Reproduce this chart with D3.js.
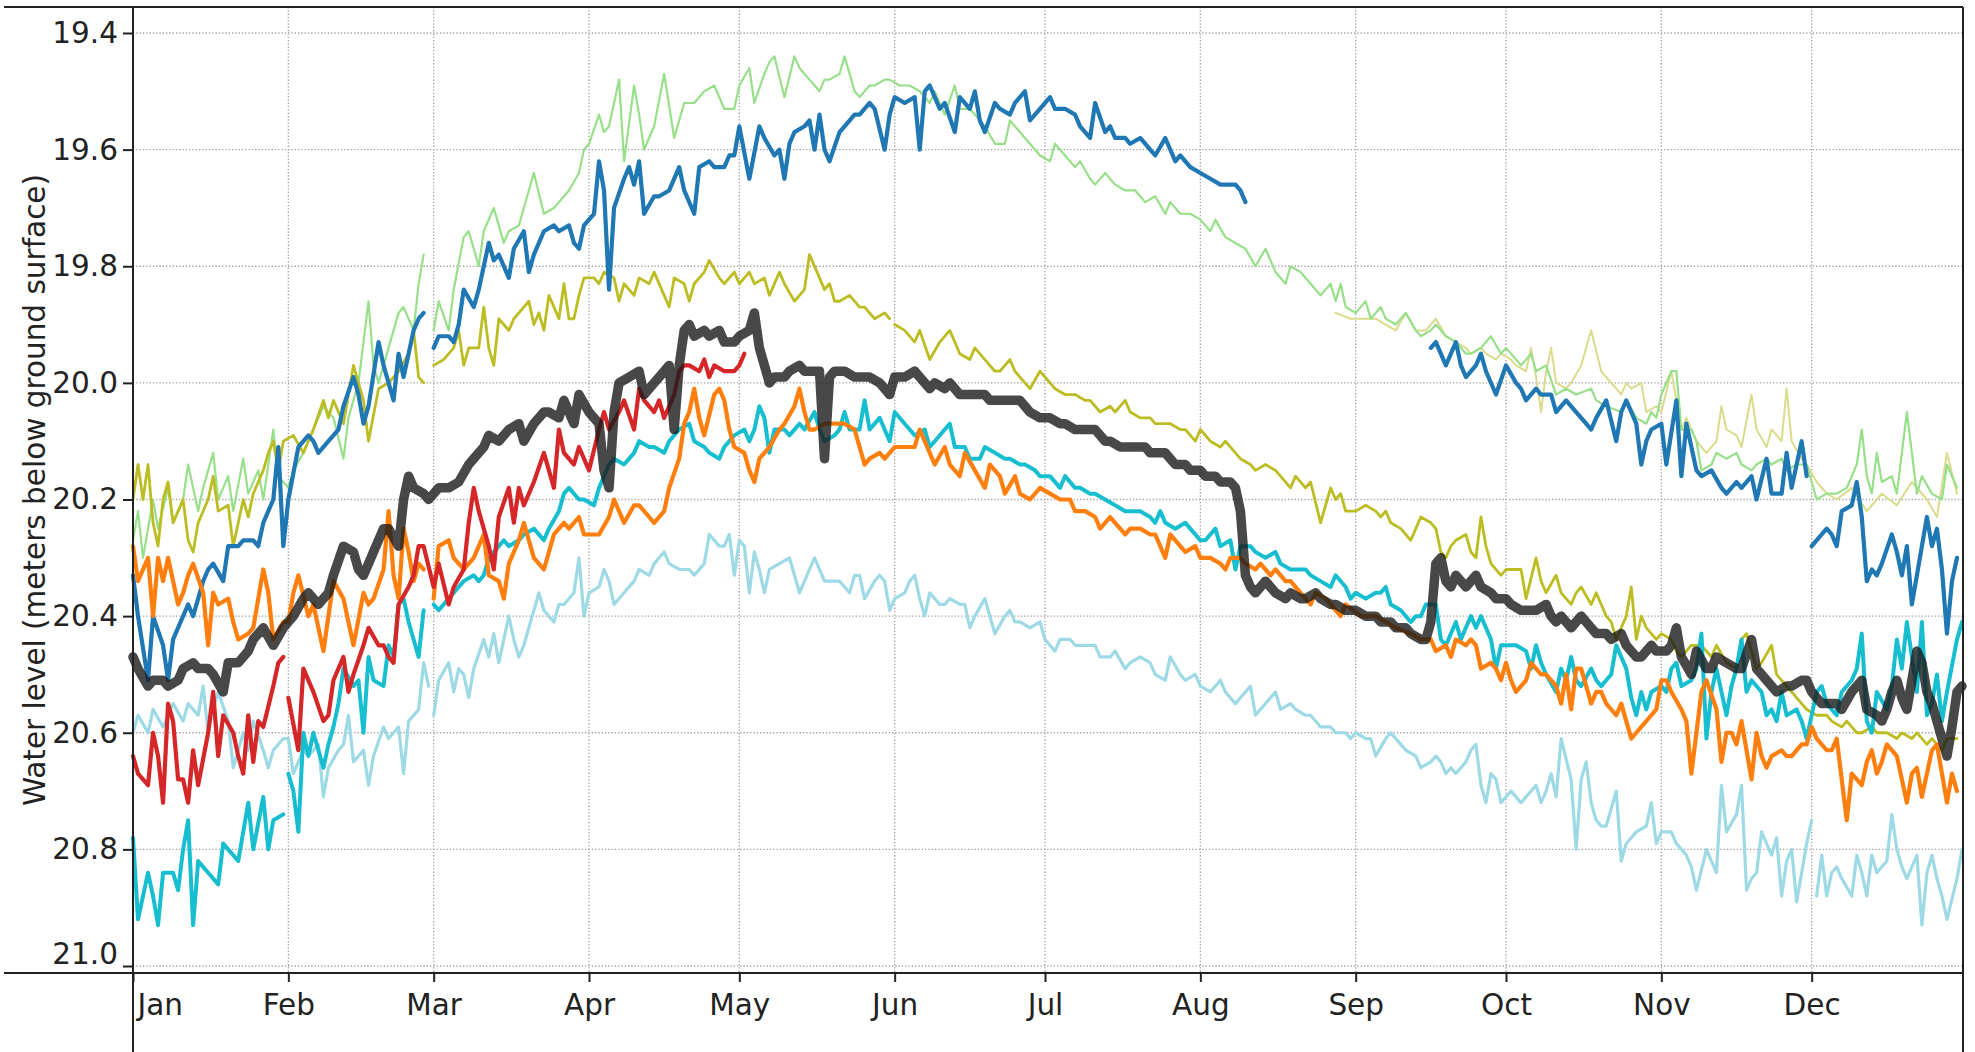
<!DOCTYPE html>
<html><head><meta charset="utf-8">
<script src="https://cdn.jsdelivr.net/npm/d3@7"></script>
<style>
body{margin:0;background:#fff;}
svg{display:block;font-family:"DejaVu Sans",Verdana,sans-serif;}
</style></head><body>
<svg id="chart" width="1975" height="1052"></svg>
<script>
// ---------- DATA (day index from Jan 1 of a leap year, water level in m below surface) ----------
const monthLabels = ["Jan","Feb","Mar","Apr","May","Jun","Jul","Aug","Sep","Oct","Nov","Dec"];
const yTicks = [19.4,19.6,19.8,20.0,20.2,20.4,20.6,20.8,21.0];
const yAxisTitle = "Water level (meters below ground surface)";

const lightBlueSeries = [[0,20.6],[1,20.57],[3,20.6],[4,20.56],[6,20.59],[7,20.57],[8,20.55],[10,20.58],[11,20.55],[13,20.57],[14,20.52],[15,20.6],[16,20.56],[17,20.53],[19,20.58],[20,20.66],[22,20.6],[23,20.63],[24,20.58],[26,20.63],[27,20.66],[28,20.63],[30,20.61],[31,20.61],[32,20.67],[34,20.63],[35,20.64],[37,20.62],[38,20.71],[39,20.66],[41,20.63],[42,20.62],[43,20.57],[44,20.65],[46,20.63],[47,20.69],[48,20.64],[50,20.59],[51,20.61],[52,20.6],[53,20.59],[54,20.67],[55,20.58],[57,20.56],[58,20.48],[59,20.52],[59.5,null],
[60,20.57],[61,20.51],[63,20.48],[64,20.53],[65,20.49],[66,20.5],[67,20.54],[68,20.49],[70,20.44],[71,20.47],[72,20.43],[73,20.48],[75,20.4],[76,20.44],[77,20.47],[78,20.45],[79,20.42],[81,20.36],[82,20.39],[84,20.41],[85,20.38],[86,20.38],[88,20.36],[89,20.3],[90,20.4],[91,20.36],[93,20.35],[94,20.32],[95,20.34],[96,20.38],[98,20.36],[100,20.34],[101,20.32],[103,20.33],[104,20.31],[106,20.29],[107,20.31],[109,20.32],[111,20.32],[112,20.33],[114,20.31],[115,20.26],[117,20.28],[118,20.28],[119,20.26],[120,20.33],[121,20.27],[122,20.28],[123,20.36],[124,20.29],[125,20.32],[126,20.36],[127,20.32],[129,20.31],[131,20.3],[132,20.33],[133,20.36],[134,20.34],[136,20.3],[137,20.32],[138,20.34],[140,20.34],[141,20.34],[143,20.36],[144,20.33],[145,20.33],[146,20.37],[148,20.34],[149,20.33],[150,20.34],[151,20.39],[152,20.37],[154,20.36],[155,20.34],[156,20.33],[157,20.37],[158,20.4],[159,20.36],[161,20.38],[162,20.38],[163,20.37],[165,20.38],[166,20.38],[167,20.42],[168,20.4],[170,20.37],[171,20.4],[172,20.43],[174,20.4],[175,20.39],[176,20.41],[177,20.41],[179,20.42],[181,20.41],[182,20.44],[184,20.46],[185,20.44],[187,20.44],[188,20.45],[190,20.45],[192,20.45],[193,20.47],[195,20.47],[196,20.46],[198,20.49],[199,20.48],[201,20.47],[203,20.48],[204,20.5],[206,20.51],[207,20.47],[209,20.5],[210,20.51],[212,20.5],[213,20.52],[215,20.53],[217,20.51],[218,20.53],[220,20.55],[221,20.54],[223,20.52],[224,20.57],[226,20.55],[228,20.53],[229,20.56],[231,20.55],[232,20.56],[234,20.57],[235,20.57],[237,20.59],[239,20.59],[240,20.6],[242,20.6],[243,20.61],[244,20.6],[246,20.61],[247,20.61],[248,20.64],[250,20.61],[251,20.6],[253,20.62],[254,20.63],[256,20.64],[257,20.66],[259,20.65],[260,20.64],[261,20.65],[262,20.67],[263,20.66],[264,20.67],[266,20.65],[267,20.63],[268,20.62],[269,20.69],[270,20.72],[271,20.67],[272,20.68],[273,20.72],[275,20.7],[276,20.71],[277,20.72],[278,20.71],[280,20.69],[281,20.72],[282,20.7],[283,20.67],[284,20.71],[285,20.61],[287,20.68],[288,20.8],[289,20.68],[290,20.65],[291,20.72],[292,20.75],[293,20.76],[294,20.76],[296,20.7],[297,20.82],[298,20.79],[299,20.78],[300,20.77],[302,20.76],[303,20.72],[304,20.79],[305,20.77],[307,20.77],[308,20.79],[309,20.8],[310,20.81],[311,20.83],[312,20.87],[314,20.8],[315,20.82],[316,20.84],[317,20.69],[318,20.77],[320,20.74],[321,20.69],[322,20.87],[323,20.85],[324,20.84],[325,20.77],[327,20.81],[328,20.78],[329,20.88],[330,20.82],[331,20.8],[332,20.89],[334,20.79],[335,20.75],[335.3,null],
[336,20.88],[337,20.81],[338,20.88],[339,20.84],[340,20.83],[341,20.85],[343,20.88],[344,20.81],[345,20.84],[346,20.88],[347,20.81],[348,20.84],[350,20.82],[351,20.74],[352,20.8],[353,20.83],[354,20.85],[356,20.81],[357,20.93],[358,20.84],[359,20.81],[360,20.85],[361,20.88],[362,20.92],[364,20.85],[365,20.8]];

const paleSeries = [[240,19.88],[243,19.89],[245,19.89],[248,19.89],[250,19.9],[252,19.91],[254,19.88],[256,19.91],[258,19.91],[260,19.89],[262,19.92],[264,19.93],[266,19.94],[267,19.95],[269,19.94],[270,19.95],[272,19.96],[273,19.95],[275,19.96],[276,19.97],[278,19.98],[279,19.94],[280,19.99],[281,20.05],[282,19.98],[283,19.94],[284,20.0],[286,20.01],[287,20.0],[289,19.97],[291,19.91],[293,19.98],[294,19.99],[296,20.01],[297,20.02],[298,20.0],[299,20.01],[301,20.0],[302,20.05],[304,20.04],[305,20.05],[307,19.98],[308,20.03],[309,20.08],[310,20.06],[312,20.1],[313,20.11],[314,20.12],[316,20.1],[317,20.04],[318,20.08],[320,20.09],[321,20.11],[323,20.02],[324,20.08],[326,20.11],[327,20.08],[329,20.1],[330,20.01],[331,20.1],[333,20.13],[334,20.14],[336,20.17],[338,20.19],[340,20.2],[343,20.18],[346,20.22],[349,20.19],[352,20.21],[355,20.17],[358,20.2],[360,20.23],[362,20.12],[364,20.19]];

const lightGreenSeries = [[0,20.27],[1,20.22],[2,20.3],[4,20.2],[5,20.25],[7,20.18],[8,20.24],[10,20.2],[11,20.14],[13,20.22],[14,20.18],[16,20.12],[17,20.2],[19,20.16],[20,20.22],[22,20.13],[23,20.19],[25,20.15],[26,20.2],[28,20.08],[29,20.16],[31,20.18],[32,20.15],[34,20.12],[36,20.08],[38,20.04],[40,20.06],[42,20.13],[43,20.06],[45,20.0],[47,19.86],[48,19.97],[49,20.0],[51,19.94],[53,19.88],[54,19.87],[56,19.91],[57,19.83],[58,19.78],[59,null],
[60,19.91],[61,19.86],[63,19.91],[64,19.84],[66,19.75],[67,19.74],[69,19.8],[70,19.74],[72,19.7],[74,19.76],[75,19.74],[77,19.73],[78,19.7],[80,19.64],[82,19.71],[84,19.7],[85,19.69],[87,19.67],[89,19.64],[90,19.6],[91,19.59],[93,19.54],[94,19.57],[95,19.56],[97,19.48],[98,19.62],[100,19.49],[101,19.54],[102,19.6],[104,19.56],[106,19.47],[108,19.58],[110,19.52],[112,19.52],[114,19.5],[116,19.49],[118,19.53],[120,19.53],[121,19.49],
[123,19.46],[124,19.52],[126,19.47],[127,19.45],[128,19.44],[130,19.51],[132,19.44],[133,19.46],[135,19.48],[137,19.5],[138,19.48],[139,19.48],[141,19.47],[142,19.44],[144,19.5],[145,19.51],[147,19.49],[148,19.49],[150,19.48],[151,19.48],[153,19.49],[155,19.49],[157,19.5],[159,19.52],[160,19.5],[162,19.54],[164,19.49],[165,19.53],[167,19.53],[169,19.55],[170,19.56],[172,19.59],[174,19.59],[175,19.55],[177,19.57],[178,19.58],[180,19.6],[181,19.61],[183,19.62],[184,19.59],[186,19.61],[188,19.63],[189,19.62],[191,19.65],[192,19.66],[194,19.64],[196,19.66],[198,19.67],[200,19.67],[202,19.69],[204,19.68],[206,19.71],[207,19.69],[209,19.71],[211,19.71],[213,19.72],[215,19.74],[216,19.72],[218,19.75],[220,19.76],[222,19.77],[224,19.8],[226,19.77],[228,19.81],[230,19.83],[231,19.8],[233,19.81],[235,19.83],[237,19.85],[239,19.83],[240,19.86],[241,19.83],[242,19.87],
[244,19.88],[246,19.86],[247,19.89],[249,19.87],[250,19.89],[252,19.9],[254,19.88],[256,19.91],[257,19.92],[259,19.91],[260,19.9],[262,19.92],[264,19.93],[266,19.95],[267,19.95],[269,19.94],[271,19.92],[273,19.95],[274,19.94],[276,19.96],[277,19.97],[279,19.95],[280,19.98],[282,19.97],[284,20.02],[286,20.01],[288,20.02],[291,20.01],[292,20.03],[294,20.04],[297,20.05],[298,20.03],[300,20.06],[302,20.07],[303,20.05],[304,20.06],[305,20.02],[307,19.98],[308,19.98],[309,20.08],[311,20.08],[312,20.1],[313,20.15],[315,20.14],[316,20.12],[318,20.13],[320,20.12],[321,20.14],[323,20.15],[324,20.14],[326,20.13],[327,20.14],[329,20.13],[330,20.15],[332,20.14],[334,20.14],[336,20.2],[338,20.19],[340,20.19],[342,20.18],[344,20.14],[345,20.08],[346,20.16],[347,20.19],[348,20.12],[349,20.17],[351,20.16],[352,20.19],[354,20.05],[356,20.19],[357,20.16],[359,20.19],[361,20.2],[362,20.14],[364,20.18]];

const oliveSeries = [[0,20.2],[1,20.14],[2,20.2],[3,20.14],[4,20.24],[5,20.28],[6,20.2],[7,20.17],[8,20.24],[10,20.2],[11,20.27],[12,20.29],[13,20.24],[15,20.2],[16,20.16],[17,20.22],[19,20.21],[20,20.28],[22,20.2],[23,20.23],[24,20.19],[26,20.15],[27,20.12],[28,20.1],[29,20.15],[30,20.1],[32,20.09],[34,20.12],[36,20.08],[38,20.03],[39,20.06],[40,20.03],[42,20.07],[44,19.97],[46,20.03],[47,20.1],[49,20.01],[51,20.0],[53,19.98],[55,19.95],[56,19.91],[57,19.99],[58,20.0],[59,null],
[60,19.97],[62,19.96],[64,19.94],[65,19.91],[66,19.97],[67,19.94],[69,19.94],[70,19.87],[71,19.94],[72,19.97],[73,19.89],[75,19.91],[76,19.89],[78,19.87],[79,19.86],[80,19.9],[81,19.88],[82,19.91],[83,19.85],[85,19.89],[86,19.83],[87,19.89],[88,19.89],[89,19.85],[90,19.82],[92,19.82],[93,19.83],[94,19.81],[96,19.82],[97,19.86],[98,19.83],[100,19.85],[101,19.82],[103,19.83],[104,19.81],[106,19.85],[107,19.87],[108,19.82],[110,19.83],[111,19.86],[112,19.83],[114,19.81],[115,19.79],[117,19.82],[118,19.83],[120,19.81],[121,19.83],
[123,19.81],[124,19.83],[126,19.82],[127,19.85],[129,19.81],[130,19.83],[132,19.86],[134,19.84],[135,19.78],[137,19.82],[138,19.84],[139,19.83],[140,19.86],[141,19.86],[143,19.85],[145,19.87],[146,19.87],[148,19.89],[150,19.88],[151,19.89],[151.5,null],
[152,19.9],[154,19.91],[156,19.93],[157,19.91],[159,19.96],[161,19.93],[163,19.91],[164,19.93],[165,19.95],[167,19.96],[168,19.94],[170,19.96],[172,19.98],[173,19.98],[175,19.96],[176,19.98],[177,19.99],[179,20.01],[181,19.98],[183,20.0],[184,20.01],[186,20.02],[188,20.02],[190,20.03],[191,20.03],[193,20.05],[195,20.04],[196,20.05],[198,20.03],[199,20.05],[201,20.06],[203,20.06],[204,20.07],[206,20.07],[207,20.07],[209,20.08],[210,20.08],[212,20.1],[213,20.08],[215,20.1],[217,20.11],[218,20.1],[220,20.12],[221,20.13],[223,20.14],[224,20.15],[226,20.14],[228,20.15],[229,20.16],[231,20.18],[232,20.16],[234,20.18],[235,20.17],[237,20.24],[239,20.18],[240,20.2],[241,20.19],[242,20.22],
[244,20.22],[246,20.21],[248,20.22],[249,20.23],[250,20.22],[251,20.24],[253,20.25],[255,20.27],[256,20.25],[257,20.23],[259,20.24],[260,20.25],[261,20.29],[262,20.3],[263,20.28],[264,20.27],[266,20.26],[267,20.29],[268,20.3],[269,20.23],[270,20.28],[271,20.31],[273,20.33],[274,20.32],[276,20.32],[277,20.32],[278,20.37],[280,20.3],[281,20.34],[282,20.36],[284,20.33],[285,20.36],[287,20.38],[288,20.36],[289,20.35],[291,20.38],[292,20.36],[294,20.4],[295,20.41],[296,20.44],[298,20.4],[299,20.35],[300,20.44],[301,20.4],[302,20.42],[304,20.44],[305,20.43],[307,20.44],[308,20.46],[309,20.47],[311,20.45],[312,20.45],[313,20.45],[315,20.47],[316,20.45],[318,20.48],[320,20.49],[321,20.44],[322,20.43],[324,20.49],[325,20.48],[327,20.45],[328,20.5],[330,20.52],[331,20.53],[333,20.55],[334,20.56],[336,20.57],[338,20.57],[339,20.58],[341,20.59],[342,20.58],[344,20.6],[345,20.6],[347,20.59],[348,20.6],[350,20.6],[352,20.61],[353,20.6],[355,20.61],[356,20.6],[358,20.62],[359,20.61],[361,20.63],[362,20.61],[364,20.61]];

const blueSeries = [[0,20.33],[1,20.4],[3,20.51],[4,20.4],[6,20.45],[7,20.51],[8,20.44],[10,20.4],[11,20.38],[12,20.4],[14,20.34],[15,20.32],[16,20.31],[18,20.34],[19,20.28],[21,20.28],[22,20.27],[24,20.27],[25,20.28],[26,20.24],[28,20.2],[29,20.11],[30,20.28],[31,20.2],[33,20.11],[35,20.09],[36,20.1],[37,20.12],[39,20.1],[41,20.08],[42,20.04],[44,19.99],[45,20.02],[46,20.07],[47,20.04],[49,19.93],[50,19.97],[52,20.03],[53,19.95],[54,19.99],[56,19.91],[57,19.89],[58,19.88],[59,null],
[60,19.94],[61,19.92],[63,19.92],[64,19.93],[65,19.9],[66,19.84],[68,19.87],[69,19.84],[71,19.76],[72,19.79],[73,19.78],[75,19.82],[76,19.77],[78,19.74],[79,19.81],[80,19.78],[82,19.74],[84,19.73],[85,19.74],[87,19.73],[88,19.76],[89,19.77],[90,19.73],[92,19.71],[93,19.62],[94,19.67],[95,19.84],[96,19.7],[98,19.65],[99,19.63],[100,19.66],[101,19.62],[102,19.71],[104,19.68],[105,19.68],[107,19.67],[109,19.63],[110,19.67],[112,19.71],[113,19.63],[115,19.62],[116,19.63],[118,19.63],[119,19.61],[120,19.61],
[121,19.56],[123,19.65],[125,19.56],[126,19.58],[128,19.61],[129,19.6],[130,19.65],[131,19.59],[132,19.57],[134,19.56],[135,19.55],[136,19.6],[137,19.54],[138,19.6],[139,19.62],[141,19.57],[142,19.56],[144,19.54],[145,19.54],[147,19.52],[148,19.53],[150,19.6],[151,19.54],[152,19.51],[154,19.52],[156,19.51],[157,19.6],[158,19.5],[159,19.49],[161,19.53],[162,19.52],[164,19.57],[165,19.51],[167,19.53],[168,19.5],[169,19.55],[170,19.57],[172,19.52],[173,19.53],[175,19.54],[176,19.52],[178,19.5],[179,19.55],[181,19.53],[183,19.51],[184,19.53],[186,19.53],[188,19.54],[189,19.56],[191,19.58],[192,19.52],[194,19.57],[195,19.56],[196,19.58],[198,19.58],[199,19.59],[201,19.58],[203,19.6],[204,19.61],[206,19.58],[208,19.62],[209,19.61],[211,19.63],[213,19.64],[215,19.65],[217,19.66],[219,19.66],[220,19.66],[221,19.67],[222,19.69],[223,null],
[259,19.94],[260,19.93],[262,19.97],[263,19.95],[264,19.93],[265,19.97],[266,19.99],[268,19.97],[269,19.95],[270,19.98],[272,20.02],[274,19.97],[276,20.0],[277,20.01],[278,20.03],[280,20.01],[281,20.02],[283,20.02],[284,20.05],[286,20.03],[288,20.05],[290,20.07],[291,20.08],[292,20.06],[294,20.03],[296,20.1],[297,20.05],[298,20.03],[300,20.07],[301,20.14],[302,20.1],[303,20.08],[305,20.07],[306,20.14],[308,20.03],[309,20.16],[310,20.07],[312,20.15],[313,20.16],[315,20.15],[317,20.18],[318,20.19],[320,20.17],[321,20.18],[323,20.16],[324,20.2],[326,20.13],[327,20.19],[329,20.19],[330,20.12],[331,20.18],[333,20.1],[334,20.16],[334.7,null],
[335,20.28],[337,20.26],[338,20.25],[339,20.26],[340,20.28],[341,20.22],[343,20.21],[344,20.17],[345,20.23],[346,20.34],[347,20.32],[348,20.33],[349,20.31],[351,20.26],[352,20.29],[353,20.33],[354,20.28],[355,20.38],[357,20.28],[358,20.23],[359,20.28],[360,20.25],[361,20.32],[362,20.43],[363,20.34],[364,20.3]];

const cyanSeries = [[0,20.78],[1,20.92],[3,20.84],[4,20.88],[5,20.93],[6,20.84],[7,20.84],[8,20.84],[9,20.87],[10,20.8],[11,20.75],[12,20.93],[13,20.82],[14,20.83],[15,20.84],[17,20.86],[18,20.79],[19,20.8],[21,20.82],[22,20.77],[23,20.72],[24,20.8],[26,20.71],[27,20.8],[28,20.75],[30,20.74],[30.5,null],
[31,20.67],[32,20.7],[33,20.77],[34,20.6],[35,20.64],[36,20.6],[38,20.66],[39,20.62],[40,20.59],[41,20.55],[42,20.49],[44,20.52],[45,20.51],[46,20.6],[47,20.47],[48,20.51],[50,20.52],[51,20.45],[52,20.47],[53,20.38],[54,20.37],[55,20.41],[57,20.47],[58,20.39],[59,null],
[60,20.38],[61,20.39],[63,20.37],[64,20.36],[66,20.34],[68,20.33],[69,20.34],[70,20.33],[71,20.3],[73,20.28],[74,20.27],[75,20.28],[77,20.27],[78,20.26],[80,20.25],[82,20.27],[83,20.25],[85,20.22],[86,20.19],[87,20.18],[89,20.2],[90,20.2],[92,20.21],[93,20.18],[95,20.14],[96,20.13],[98,20.14],[100,20.12],[101,20.1],[103,20.11],[104,20.11],[106,20.12],[107,20.1],[109,20.08],[111,20.07],[112,20.1],[114,20.11],[115,20.12],[117,20.13],[118,20.11],[120,20.09],[122,20.08],[123,20.1],[124,20.08],[125,20.04],[126,20.06],[127,20.12],[128,20.08],[130,20.08],[131,20.09],[133,20.07],[134,20.08],[136,20.05],[137,20.08],[138,20.1],[140,20.09],[141,20.08],[142,20.05],[143,20.08],[145,20.08],[146,20.03],[147,20.08],[149,20.06],[150,20.08],[151,20.1],[152,20.05],[154,20.07],[155,20.08],[156,20.09],[158,20.08],[159,20.11],[160,20.1],[162,20.08],[163,20.07],[164,20.11],[166,20.11],[167,20.13],[169,20.13],[170,20.11],[172,20.12],[174,20.13],[175,20.13],[177,20.14],[178,20.14],[180,20.15],[181,20.16],[183,20.16],[185,20.18],[186,20.16],[188,20.18],[189,20.18],[191,20.19],[192,20.19],[194,20.2],[196,20.21],[198,20.22],[199,20.22],[201,20.22],[203,20.23],[204,20.24],[205,20.22],[206,20.24],[208,20.25],[210,20.24],[211,20.25],[213,20.27],[214,20.27],[216,20.25],[217,20.28],[219,20.27],[220,20.32],[221,20.28],[223,20.28],[224,20.29],[226,20.3],[228,20.29],[229,20.31],[231,20.32],[232,20.32],[234,20.32],[235,20.33],[237,20.34],[239,20.35],[240,20.33],[242,20.35],[243,20.37],[244,20.36],[246,20.37],[248,20.36],[249,20.36],[250,20.35],[251,20.38],[253,20.39],[255,20.41],[256,20.4],[257,20.4],[258,20.38],[259,20.38],[260,20.38],[261,20.44],[262,20.45],[264,20.41],[265,20.44],[266,20.42],[267,20.4],[268,20.42],[269,20.4],[271,20.44],[272,20.49],[273,20.45],[274,20.45],[275,20.45],[276,20.45],[278,20.46],[279,20.49],[280,20.45],[281,20.48],[282,20.5],[284,20.53],[285,20.49],[286,20.51],[287,20.47],[288,20.51],[289,20.52],[291,20.49],[292,20.51],[293,20.52],[294,20.51],[295,20.5],[296,20.45],[298,20.49],[299,20.54],[300,20.57],[301,20.53],[302,20.56],[303,20.53],[305,20.52],[306,20.53],[307,20.49],[308,20.48],[309,20.52],[311,20.51],[312,20.49],[313,20.43],[314,20.61],[315,20.53],[316,20.49],[318,20.57],[319,20.52],[320,20.49],[321,20.44],[322,20.53],[323,20.51],[325,20.53],[326,20.57],[327,20.56],[328,20.58],[329,20.53],[330,20.57],[332,20.56],[333,20.58],[334,20.61],[336,20.53],[337,20.52],[338,20.55],[339,20.56],[340,20.57],[341,20.53],[343,20.51],[344,20.49],[345,20.43],[346,20.58],[347,20.6],[348,20.53],[350,20.56],[351,20.52],[352,20.44],[353,20.49],[354,20.41],[356,20.53],[357,20.41],[358,20.57],[359,20.55],[360,20.5],[361,20.58],[362,20.53],[364,20.44],[365,20.41]];

const orangeSeries = [[0,20.28],[1,20.34],[3,20.3],[4,20.4],[5,20.3],[6,20.34],[7,20.3],[9,20.38],[10,20.36],[11,20.33],[12,20.31],[14,20.36],[15,20.45],[16,20.36],[17,20.38],[19,20.37],[20,20.41],[21,20.44],[23,20.43],[24,20.42],[26,20.32],[27,20.36],[28,20.44],[30,20.41],[31,20.41],[32,20.36],[33,20.33],[35,20.4],[36,20.38],[38,20.46],[39,20.4],[40,20.34],[42,20.37],[43,20.41],[44,20.45],[46,20.36],[47,20.38],[48,20.37],[50,20.32],[51,20.22],[52,20.33],[53,20.37],[54,20.25],[55,20.29],[56,20.34],[57,20.31],[58,20.32],[59,null],
[60,20.37],[61,20.28],[63,20.27],[64,20.3],[66,20.32],[68,20.3],[69,20.28],[70,20.26],[71,20.33],[73,20.34],[74,20.37],[75,20.31],[77,20.27],[78,20.24],[80,20.3],[82,20.32],[83,20.29],[84,20.26],[86,20.24],[87,20.25],[89,20.23],[90,20.26],[92,20.26],[93,20.26],[95,20.23],[96,20.2],[97,20.22],[98,20.24],[100,20.21],[101,20.21],[103,20.23],[104,20.24],[106,20.22],[107,20.18],[109,20.13],[110,20.07],[111,20.05],[112,20.01],[113,20.06],[114,20.09],[116,20.02],[117,20.01],[118,20.03],[119,20.08],[120,20.11],[122,20.12],[123,20.15],[124,20.17],[125,20.13],[127,20.11],[129,20.08],[130,20.07],[132,20.04],[133,20.01],[134,20.05],[135,20.08],[136,20.08],[138,20.07],[139,20.07],[141,20.07],[142,20.07],[144,20.08],[145,20.11],[146,20.14],[147,20.13],[149,20.12],[150,20.13],[151,20.12],[152,20.11],[154,20.11],[156,20.11],[157,20.08],[159,20.12],[160,20.14],[162,20.11],[163,20.14],[165,20.16],[166,20.12],[168,20.15],[170,20.18],[171,20.14],[173,20.16],[174,20.19],[176,20.16],[177,20.19],[179,20.2],[181,20.18],[183,20.19],[185,20.2],[187,20.2],[188,20.22],[190,20.22],[192,20.23],[193,20.25],[195,20.23],[196,20.24],[198,20.26],[199,20.25],[201,20.25],[203,20.26],[204,20.26],[206,20.3],[207,20.26],[209,20.28],[210,20.29],[212,20.28],[213,20.3],[215,20.3],[217,20.31],[218,20.32],[219,20.3],[221,20.3],[222,20.31],[224,20.32],[225,20.31],[227,20.33],[228,20.32],[230,20.34],[231,20.34],[233,20.36],[235,20.38],[236,20.36],[238,20.37],[239,20.38],[241,20.4],[242,20.38],[245,20.4],[248,20.4],[250,20.41],[252,20.42],[255,20.43],[257,20.44],[259,20.44],[260,20.46],[262,20.45],[263,20.47],[264,20.44],[266,20.45],[267,20.44],[268,20.45],[269,20.49],[271,20.48],[272,20.49],[273,20.51],[274,20.48],[275,20.51],[276,20.53],[278,20.51],[279,20.48],[280,20.49],[281,20.5],[282,20.5],[284,20.52],[285,20.55],[286,20.5],[287,20.56],[288,20.49],[289,20.49],[291,20.55],[292,20.53],[293,20.53],[294,20.55],[296,20.57],[297,20.55],[299,20.61],[300,20.6],[301,20.59],[303,20.57],[304,20.56],[305,20.51],[306,20.51],[307,20.53],[309,20.56],[310,20.58],[311,20.67],[312,20.6],[313,20.53],[314,20.51],[316,20.56],[317,20.65],[318,20.6],[319,20.6],[320,20.62],[321,20.58],[323,20.68],[324,20.6],[325,20.64],[326,20.66],[327,20.64],[329,20.63],[330,20.64],[331,20.64],[333,20.62],[334,20.62],[335,20.59],[336,20.61],[338,20.63],[339,20.63],[340,20.61],[341,20.68],[342,20.75],[343,20.67],[345,20.69],[346,20.65],[347,20.63],[348,20.67],[349,20.65],[350,20.62],[352,20.64],[353,20.68],[354,20.72],[355,20.67],[356,20.66],[357,20.71],[359,20.63],[360,20.62],[361,20.67],[362,20.72],[363,20.67],[364,20.7]];

const redSeries = [[0,20.64],[1,20.67],[3,20.69],[4,20.6],[5,20.64],[6,20.72],[7,20.55],[8,20.58],[9,20.68],[10,20.68],[11,20.72],[12,20.63],[13,20.69],[15,20.6],[16,20.53],[17,20.64],[18,20.57],[20,20.6],[21,20.64],[22,20.67],[23,20.57],[24,20.65],[25,20.58],[26,20.59],[28,20.52],[29,20.48],[30,20.47],[30.5,null],
[31,20.54],[33,20.63],[34,20.49],[36,20.53],[38,20.58],[39,20.57],[40,20.51],[42,20.47],[43,20.53],[44,20.5],[46,20.45],[47,20.42],[49,20.45],[50,20.45],[51,20.47],[52,20.48],[53,20.38],[55,20.35],[56,20.33],[57,20.28],[58,20.28],
[60,20.35],[61,20.31],[63,20.38],[64,20.35],[66,20.32],[67,20.24],[68,20.18],[69,20.22],[71,20.28],[72,20.32],[73,20.23],[75,20.18],[76,20.24],[77,20.18],[78,20.21],[80,20.17],[82,20.12],[84,20.18],[85,20.08],[86,20.12],[88,20.14],[89,20.11],[91,20.15],[93,20.08],[94,20.05],[95,20.08],[97,20.05],[98,20.03],[100,20.08],[101,20.01],[102,20.03],[104,20.05],[105,20.03],[106,20.06],[108,20.02],[109,19.98],[110,19.97],[111,19.97],[113,19.98],[114,19.96],[115,19.99],[116,19.97],[118,19.98],[120,19.98],[121,19.97],[122,19.95]];

const blackSeries = [[0,20.47],[1,20.49],[3,20.52],[4,20.51],[6,20.51],[7,20.52],[9,20.51],[10,20.49],[12,20.48],[13,20.49],[15,20.49],[16,20.5],[18,20.53],[19,20.48],[21,20.48],[23,20.46],[24,20.44],[26,20.42],[28,20.45],[30,20.42],[31,20.41],[32,20.4],[34,20.37],[35,20.36],[37,20.38],[39,20.36],[40,20.33],[42,20.28],[44,20.29],[45,20.32],[46,20.33],[48,20.29],[50,20.25],[51,20.25],[53,20.28],[54,20.2],[55,20.16],[56,20.18],[58,20.19],[59,20.2],[61,20.18],[63,20.18],[65,20.17],[67,20.14],[68,20.13],[70,20.11],[71,20.09],[73,20.1],[75,20.08],[77,20.07],[78,20.1],[80,20.07],[82,20.05],[83,20.05],[85,20.06],[86,20.03],[88,20.07],[89,20.02],[91,20.05],[93,20.07],[94,20.15],[95,20.18],[96,20.05],[97,20.0],[99,19.99],[101,19.98],[102,20.02],[104,20.0],[105,19.99],[107,19.97],[108,20.08],[109,19.97],[110,19.91],[111,19.9],[112,19.92],[114,19.91],[115,19.92],[117,19.91],[118,19.93],[120,19.93],[121,19.92],[123,19.91],[124,19.88],[125,19.94],[127,20.0],[128,19.99],[130,19.99],[131,19.98],[133,19.97],[134,19.98],[136,19.98],[137,19.98],[138,20.13],[139,19.99],[140,19.98],[142,19.98],[144,19.99],[145,19.99],[147,19.99],[149,20.0],[150,20.01],[151,20.02],[152,19.99],[154,19.99],[156,19.98],[157,19.99],[159,20.01],[160,20.0],[162,20.01],[163,20.0],[165,20.02],[167,20.02],[168,20.02],[170,20.02],[171,20.03],[173,20.03],[176,20.03],[177,20.03],[179,20.05],[181,20.06],[183,20.06],[185,20.07],[186,20.07],[188,20.08],[189,20.08],[191,20.08],[192,20.08],[194,20.1],[195,20.1],[197,20.11],[200,20.11],[202,20.11],[203,20.12],[206,20.12],[208,20.14],[210,20.14],[211,20.15],[213,20.15],[214,20.16],[216,20.16],[217,20.17],[219,20.17],[220,20.18],[221,20.22],[222,20.33],[223,20.35],[224,20.36],[226,20.34],[228,20.36],[230,20.37],[231,20.36],[233,20.37],[234,20.37],[236,20.36],[237,20.37],[239,20.38],[240,20.38],[242,20.39],[244,20.39],[246,20.4],[248,20.4],[249,20.41],[251,20.41],[252,20.42],[254,20.42],[255,20.43],[257,20.44],[258,20.44],[259,20.41],[260,20.31],[261,20.3],[262,20.34],[263,20.35],[264,20.33],[265,20.34],[266,20.35],[268,20.33],[269,20.35],[271,20.36],[272,20.37],[274,20.37],[275,20.38],[277,20.39],[278,20.39],[280,20.39],[282,20.38],[283,20.4],[284,20.41],[285,20.4],[287,20.42],[288,20.41],[289,20.4],[291,20.42],[292,20.43],[294,20.43],[295,20.44],[297,20.43],[298,20.45],[300,20.47],[301,20.47],[303,20.45],[304,20.46],[306,20.46],[307,20.45],[308,20.42],[309,20.47],[311,20.5],[312,20.46],[314,20.49],[315,20.49],[316,20.47],[318,20.48],[320,20.49],[321,20.49],[323,20.44],[324,20.49],[325,20.5],[327,20.52],[328,20.53],[330,20.52],[331,20.52],[333,20.51],[334,20.51],[335,20.53],[337,20.55],[338,20.55],[340,20.55],[341,20.56],[343,20.53],[345,20.51],[346,20.56],[348,20.57],[349,20.58],[350,20.56],[351,20.53],[352,20.51],[353,20.54],[354,20.56],[356,20.46],[357,20.48],[358,20.53],[359,20.55],[361,20.61],[362,20.64],[363,20.59],[364,20.53],[365,20.52]];

// ---------- STYLES (kept separate from the data) ----------
const seriesStyles = [
  {data: lightBlueSeries,  color: "#9edae5", width: 3.2},
  {data: paleSeries,       color: "#dbdb8d", width: 2},
  {data: lightGreenSeries, color: "#98df8a", width: 2.2},
  {data: oliveSeries,      color: "#bcbd22", width: 2.8},
  {data: blueSeries,       color: "#1f77b4", width: 4.2},
  {data: cyanSeries,       color: "#17becf", width: 4},
  {data: orangeSeries,     color: "#ff7f0e", width: 4.2},
  {data: redSeries,        color: "#d62728", width: 4.2},
  {data: blackSeries,      color: "#1a1a1a", width: 9.5, opacity: 0.8}
];
const fontFamily = '"DejaVu Sans",Verdana,sans-serif';
const tickFontSize = 29.5;
const titleFontSize = 29.5;

// ---------- CHART ----------
const svg = d3.select("#chart");
const frame = {left: 133, right: 1963, top: 7, bottom: 973, outerLeft: 4, outerBottom: 1052};
const t0 = Date.UTC(2020, 0, 1);
const toDate = d => new Date(t0 + d * 864e5);
const x = d3.scaleUtc().domain([toDate(0), toDate(365)]).range([133, 1962]);
const y = d3.scaleLinear().domain([19.4, 21.0]).range([33, 966]);
const monthStarts = d3.utcMonths(toDate(0), toDate(366));

// gridlines
const grid = svg.append("g").attr("stroke", "#a0a0a0").attr("stroke-width", 1.3).attr("stroke-dasharray", "1.3,2");
grid.selectAll("line.v").data(monthStarts.slice(1)).join("line")
  .attr("x1", d => x(d)).attr("x2", d => x(d)).attr("y1", frame.top).attr("y2", frame.bottom);
grid.selectAll("line.h").data(yTicks).join("line")
  .attr("x1", frame.left).attr("x2", frame.right).attr("y1", d => y(d)).attr("y2", d => y(d));

// lines
const line = d3.line().defined(p => p[1] !== null).x(p => x(toDate(p[0]))).y(p => y(p[1]));
const plot = svg.append("g");
seriesStyles.forEach(s => {
  plot.append("path").datum(s.data)
    .attr("fill", "none").attr("stroke", s.color).attr("stroke-width", s.width)
    .attr("stroke-opacity", s.opacity || 1)
    .attr("stroke-linejoin", "round").attr("stroke-linecap", "round")
    .attr("d", line);
});

// frame lines
const fr = svg.append("g").attr("stroke", "#222").attr("stroke-width", 2);
fr.append("line").attr("x1", frame.outerLeft).attr("x2", frame.right).attr("y1", frame.top).attr("y2", frame.top);
fr.append("line").attr("x1", frame.outerLeft).attr("x2", frame.right).attr("y1", frame.bottom).attr("y2", frame.bottom);
fr.append("line").attr("x1", frame.left).attr("x2", frame.left).attr("y1", frame.top).attr("y2", frame.outerBottom);
fr.append("line").attr("x1", frame.right).attr("x2", frame.right).attr("y1", frame.top).attr("y2", frame.outerBottom);

// y axis
const yAxis = d3.axisLeft(y).tickValues(yTicks).tickFormat(d3.format(".1f")).tickSize(10).tickPadding(5);
const gy = svg.append("g").attr("transform", `translate(${frame.left},0)`).call(yAxis);
gy.select(".domain").remove();
gy.selectAll(".tick line").attr("stroke", "#222").attr("stroke-width", 2);
gy.selectAll(".tick text").attr("font-size", tickFontSize).attr("fill", "#222").attr("font-family", fontFamily);
gy.selectAll(".tick text").filter(d => d === 21.0).attr("dy", "-0.1em");

// x axis
const xAxis = d3.axisBottom(x).tickValues(monthStarts.slice(0, 12))
  .tickFormat((d, i) => monthLabels[i]).tickSize(9).tickPadding(12);
const gx = svg.append("g").attr("transform", `translate(0,${frame.bottom})`).call(xAxis);
gx.select(".domain").remove();
gx.selectAll(".tick line").attr("stroke", "#222").attr("stroke-width", 2);
gx.selectAll(".tick text").attr("font-size", tickFontSize).attr("fill", "#222").attr("font-family", fontFamily);
gx.selectAll(".tick text").filter((d, i) => i === 0).attr("text-anchor", "start").attr("x", 4);

// y title
svg.append("text").attr("transform", "translate(45,490) rotate(-90)")
  .attr("text-anchor", "middle").attr("font-size", titleFontSize).attr("fill", "#222")
  .attr("font-family", fontFamily)
  .text(yAxisTitle);
</script>
</body></html>
